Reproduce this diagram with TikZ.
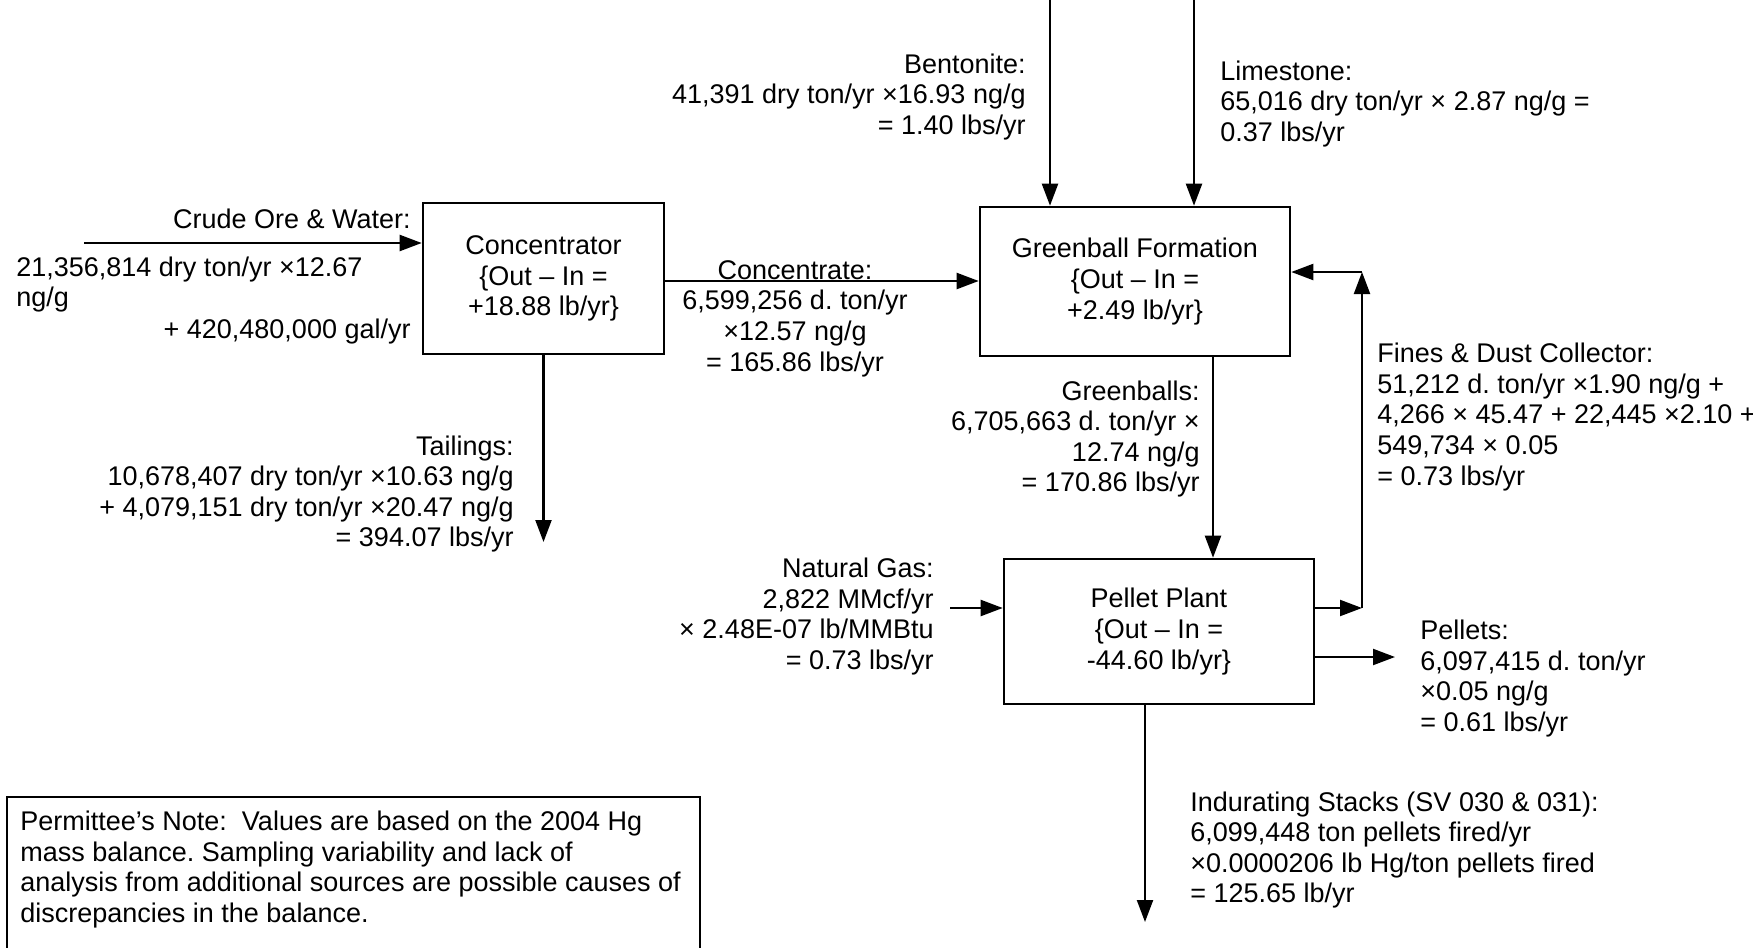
\documentclass[tikz,border=0pt]{standalone}
\usepackage{fontspec}
\setmainfont{Liberation Sans}
\usetikzlibrary{arrows.meta}
\newcommand\dfs{\fontsize{13.5}{15.3}\selectfont}
\frenchspacing
\begin{document}
\begin{tikzpicture}[x=0.5pt,y=-0.5pt,
  procbox/.style={draw,line width=1.3pt,align=center,inner sep=0pt,font=\dfs},
  lbl/.style={inner sep=0pt,font=\dfs},
  arr/.style={line width=1.1pt,-{Triangle[length=11pt,width=8pt]}}]
\path[use as bounding box,fill=white] (0,0) rectangle (1753,948);

% process boxes
\node[procbox,minimum width=120.5pt,minimum height=75.5pt] (conc) at (543.5,278.5)
  {Concentrator\\\{Out – In =\\+18.88 lb/yr\}};
\node[procbox,minimum width=155pt,minimum height=74.5pt] (green) at (1135,281.5)
  {Greenball Formation\\\{Out – In =\\+2.49 lb/yr\}};
\node[procbox,minimum width=155pt,minimum height=72.5pt] (pellet) at (1159,631.5)
  {Pellet Plant\\\{Out – In =\\-44.60 lb/yr\}};

% note box
\node[draw,line width=1pt,anchor=north west,minimum width=346.5pt,minimum height=90pt,
      inner sep=0pt] (notebox) at (6,796) {};
\node[lbl,anchor=west,align=left] (note) at (20,869.5)
  {Permittee’s Note:\ \ Values are based on the 2004 Hg\\mass balance. Sampling variability and lack of\\analysis from additional sources are possible causes of\\discrepancies in the balance.};

% coordinates for free ends
\coordinate (bentTop) at (1050,0);
\coordinate (limeTop) at (1194,0);
\coordinate (crudeStart) at (84,243);
\coordinate (concY) at (0,281);
\coordinate (tailEnd) at (543.5,542);
\coordinate (gbX) at (1213,0);
\coordinate (fCorner) at (1362,272);
\coordinate (fBottom) at (1362,608);
\coordinate (gasStart) at (950,608);
\coordinate (pelY) at (0,657);
\coordinate (pelEnd) at (1395,657);
\coordinate (indStart) at (1145,704);
\coordinate (indEnd) at (1145,922);

% connectors
\draw[arr] (bentTop) -- (bentTop |- green.north);
\draw[arr] (limeTop) -- (limeTop |- green.north);
\draw[arr] (crudeStart) -- (crudeStart -| conc.west);
\draw[arr] (conc.east |- concY) -- (green.west |- concY);
\draw[arr] (conc.south) -- (tailEnd);
\draw[arr] (green.south -| gbX) -- (pellet.north -| gbX);
\draw[arr] (pellet.east |- fBottom) -- (fBottom);
\draw[arr] (fBottom) -- (fCorner);
\draw[arr] (fCorner) -- (fCorner -| green.east);
\draw[arr] (gasStart) -- (gasStart -| pellet.west);
\draw[arr] (pellet.east |- pelY) -- (pelEnd);
\draw[arr] (pellet.south -| indStart) -- (indEnd);

% labels
\node[lbl,anchor=east,align=right] (bent) at (1026,96.7)
  {Bentonite:\\41,391 dry ton/yr ×16.93 ng/g\\= 1.40 lbs/yr};
\node[lbl,anchor=west,align=left] (lime) at (1220,104)
  {Limestone:\\65,016 dry ton/yr × 2.87 ng/g =\\0.37 lbs/yr};
\node[lbl,anchor=east] (crudeT) at (411,219) {Crude Ore \& Water:};
\node[lbl,anchor=west,align=left] (crudeV) at (16,284.5)
  {21,356,814 dry ton/yr ×12.67\\ng/g};
\node[lbl,anchor=east] (water) at (411,332) {+ 420,480,000 gal/yr};
\node[lbl,align=center] (concT) at (795,318.5)
  {Concentrate:\\6,599,256 d. ton/yr\\×12.57 ng/g\\= 165.86 lbs/yr};
\node[lbl,anchor=east,align=right] (tail) at (514,494)
  {Tailings:\\10,678,407 dry ton/yr ×10.63 ng/g\\+ 4,079,151 dry ton/yr ×20.47 ng/g\\= 394.07 lbs/yr};
\node[lbl,anchor=east,align=right] (gb) at (1200,439)
  {Greenballs:\\6,705,663 d. ton/yr ×\\12.74 ng/g\\= 170.86 lbs/yr};
\node[lbl,anchor=west,align=left] (fines) at (1377,417)
  {Fines \& Dust Collector:\\51,212 d. ton/yr ×1.90 ng/g +\\4,266 × 45.47 + 22,445 ×2.10 +\\549,734 × 0.05\\= 0.73 lbs/yr};
\node[lbl,anchor=east,align=right] (gas) at (934,616.5)
  {Natural Gas:\\2,822 MMcf/yr\\× 2.48E-07 lb/MMBtu\\= 0.73 lbs/yr};
\node[lbl,anchor=west,align=left] (pel) at (1420,678.5)
  {Pellets:\\6,097,415 d. ton/yr\\×0.05 ng/g\\= 0.61 lbs/yr};
\node[lbl,anchor=west,align=left] (ind) at (1190,850)
  {Indurating Stacks (SV 030 \& 031):\\6,099,448 ton pellets fired/yr\\×0.0000206 lb Hg/ton pellets fired\\= 125.65 lb/yr};
\end{tikzpicture}
\end{document}
